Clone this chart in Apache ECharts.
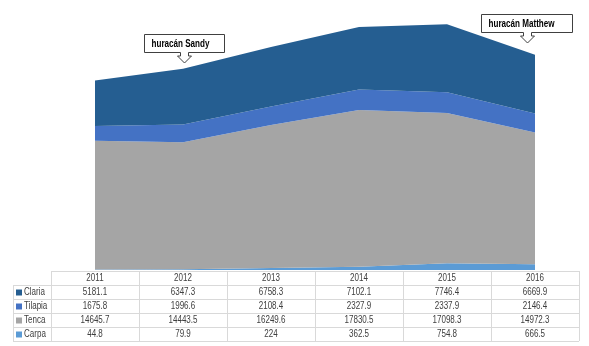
<!DOCTYPE html>
<html><head><meta charset="utf-8">
<script src="https://cdn.jsdelivr.net/npm/echarts@6/dist/echarts.min.js"></script>
<style>html,body{margin:0;padding:0;background:#fff}#c{width:589px;height:346px}</style>
</head><body><div id="c"></div>
<script>
const years = ['2011','2012','2013','2014','2015','2016'];
const claria = [5181.1, 6347.3, 6758.3, 7102.1, 7746.4, 6669.9];
const tilapia = [1675.8, 1996.6, 2108.4, 2327.9, 2337.9, 2146.4];
const tenca = [14645.7, 14443.5, 16249.6, 17830.5, 17098.3, 14972.3];
const carpa = [44.8, 79.9, 224, 362.5, 754.8, 666.5];
const seriesNames = ['Claria','Tilapia','Tenca','Carpa'];
const seriesData = [claria, tilapia, tenca, carpa];
const colors = {Claria:'#255E91', Tilapia:'#4472C4', Tenca:'#A5A5A5', Carpa:'#5B9BD5'};

const FONT = '"Liberation Sans", Arial, sans-serif';
const cv=document.createElement('canvas').getContext('2d');
function w(font,t){cv.font=font;return cv.measureText(t).width;}

const chart = echarts.init(document.getElementById('c'));
const stackOrder = ['Carpa','Tenca','Tilapia','Claria'];
chart.setOption({
  animation:false,
  grid:{left:95,right:54,top:6,bottom:76},
  xAxis:{type:'category',data:years,boundaryGap:false,show:false},
  yAxis:{type:'value',min:0,max:30000,show:false},
  series: stackOrder.map(n=>({
    name:n,type:'line',stack:'t',symbol:'none',
    lineStyle:{width:0},
    areaStyle:{color:colors[n],opacity:1},
    data: seriesData[seriesNames.indexOf(n)]
  }))
});

const tFont = '10px '+FONT;
const tScale = 29/w(tFont,'14645.7');
const cFont = 'bold 11px '+FONT;
const cScale = 58/w(cFont,'huracán Sandy');

const els = [];
const lineCol = '#D9D9D9';
const txtCol = '#404040';
const rowY = [271,285,299,313,327,341];
const colCenters = years.map((y,i)=>chart.convertToPixel({xAxisIndex:0}, i));
const half = (colCenters[1]-colCenters[0])/2;
const colEdges = [colCenters[0]-half].concat(colCenters.map(c=>c+half));
const leftX = 13;
rowY.forEach((y,i)=>{
  els.push({type:'line',shape:{x1:i===0?colEdges[0]:leftX,y1:y+0.5,x2:colEdges[colEdges.length-1],y2:y+0.5},style:{stroke:lineCol,lineWidth:1}});
});
colEdges.forEach(x=>{
  els.push({type:'line',shape:{x1:Math.round(x)+0.5,y1:rowY[0],x2:Math.round(x)+0.5,y2:rowY[5]},style:{stroke:lineCol,lineWidth:1}});
});
els.push({type:'line',shape:{x1:leftX+0.5,y1:rowY[1],x2:leftX+0.5,y2:rowY[5]},style:{stroke:lineCol,lineWidth:1}});
function txt(t,x,y,align,font,scale,fill){
  return {type:'text',x:x,y:y,scaleX:scale,style:{text:t,fill:fill,font:font,align:align,verticalAlign:'middle'}};
}
years.forEach((y,i)=>{
  els.push(txt(y,colCenters[i],(rowY[0]+rowY[1])/2+0.5,'center',tFont,tScale,txtCol));
});
seriesNames.forEach((n,r)=>{
  const cy=(rowY[r+1]+rowY[r+2])/2+0.5;
  els.push({type:'rect',shape:{x:16,y:cy-3,width:6,height:6},style:{fill:colors[n]}});
  els.push(txt(n,24,cy,'left',tFont,tScale,txtCol));
  seriesData[r].forEach((v,i)=>{
    els.push(txt(String(v),colCenters[i],cy,'center',tFont,tScale,txtCol));
  });
});
function callout(text,bx,by,bw,bh,tx,ty){
  const b=by+bh;
  els.push({type:'polygon',shape:{points:[[bx,by],[bx+bw,by],[bx+bw,b],[tx+4,b],[tx+4,ty-7],[tx+7,ty-7],[tx,ty],[tx-7,ty-7],[tx-4,ty-7],[tx-4,b],[bx,b]]},style:{fill:'#fff',stroke:'#404040',lineWidth:1}});
  els.push(txt(text,bx+7,by+bh/2+0.5,'left',cFont,cScale,'#000'));
}
callout('huracán Sandy',144.5,34.5,80,18,184.5,63);
callout('huracán Matthew',481.5,14.5,91,18,527.5,43);
chart.setOption({graphic:{elements:els}});
</script></body></html>
